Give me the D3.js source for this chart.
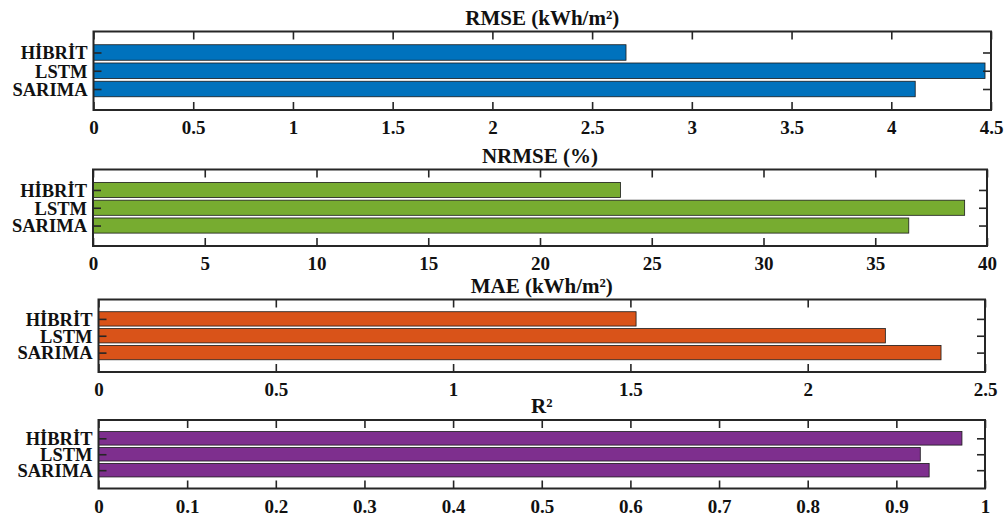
<!DOCTYPE html>
<html>
<head>
<meta charset="utf-8">
<script src="https://cdn.jsdelivr.net/npm/d3@7/dist/d3.min.js"></script>
<style>
  html, body { margin: 0; padding: 0; background: #fff; }
  svg { display: block; }
</style>
</head>
<body>
<svg id="chart" width="1006" height="520"></svg>
<script>
// Forecast models compared in each panel
const models = ["HİBRİT", "LSTM", "SARIMA"];

// Error metrics per model (same order as models)
const rmse  = [2.67, 4.47, 4.12];
const nrmse = [23.6, 39.0, 36.5];
const mae   = [1.516, 2.219, 2.376];
const r2    = [0.974, 0.927, 0.937];

// Panel titles and axis ticks
const titles = ["RMSE (kWh/m²)", "NRMSE (%)", "MAE (kWh/m²)", "R²"];
const ticksRmse  = [0, 0.5, 1, 1.5, 2, 2.5, 3, 3.5, 4, 4.5];
const ticksNrmse = [0, 5, 10, 15, 20, 25, 30, 35, 40];
const ticksMae   = [0, 0.5, 1, 1.5, 2, 2.5];
const ticksR2    = [0, 0.1, 0.2, 0.3, 0.4, 0.5, 0.6, 0.7, 0.8, 0.9, 1];

const colors = ["#0072BD", "#77AC30", "#D95319", "#7E2F8E"];

// Axes boxes for the four stacked panels
const boxes = [
  { left: 93.5, right: 991, top: 31.5, bottom: 110 },
  { left: 93,   right: 987, top: 169.5, bottom: 246 },
  { left: 98.5, right: 985, top: 299.5, bottom: 372 },
  { left: 98.5, right: 985, top: 420,   bottom: 488.5 }
];

const panels = [
  { title: titles[0], values: rmse,  ticks: ticksRmse,  color: colors[0] },
  { title: titles[1], values: nrmse, ticks: ticksNrmse, color: colors[1] },
  { title: titles[2], values: mae,   ticks: ticksMae,   color: colors[2] },
  { title: titles[3], values: r2,    ticks: ticksR2,    color: colors[3] }
];

const FONT = "'Liberation Serif', 'Times New Roman', Times, serif";
const svg = d3.select("#chart");
const axisColor = "#262626";

panels.forEach((p, i) => {
  const b = boxes[i];
  const w = b.right - b.left, h = b.bottom - b.top;
  const g = svg.append("g").attr("transform", `translate(${b.left},${b.top})`);

  const x = d3.scaleLinear()
    .domain([0, p.ticks[p.ticks.length - 1]])
    .range([0, w]);
  const yi = d3.scaleLinear().domain([-1.15, 3.15]).range([0, h]);
  const y = d => yi(models.indexOf(d));
  const barH = (yi(1) - yi(0)) * 0.85;

  // bars
  g.selectAll("rect.bar")
    .data(models.map((m, k) => ({ m, v: p.values[k] })))
    .join("rect")
    .attr("class", "bar")
    .attr("x", x(0))
    .attr("y", d => y(d.m) - barH / 2)
    .attr("width", d => x(d.v) - x(0))
    .attr("height", barH)
    .attr("fill", p.color)
    .attr("stroke", "#1a1a1a")
    .attr("stroke-width", 0.8);

  // bottom axis with labels, inward ticks
  const bottom = g.append("g")
    .attr("transform", `translate(0,${h})`)
    .call(d3.axisBottom(x).tickValues(p.ticks).tickFormat(d => String(d))
      .tickSizeInner(-8).tickSizeOuter(0).tickPadding(11));
  // top axis, ticks only
  const top = g.append("g")
    .call(d3.axisTop(x).tickValues(p.ticks).tickFormat("")
      .tickSizeInner(-8).tickSizeOuter(0));

  // left category axis
  const yPts = d3.scalePoint().domain(models).range([y(models[0]), y(models[2])]);
  const left = g.append("g")
    .call(d3.axisLeft(yPts).tickSizeInner(-8).tickSizeOuter(0).tickPadding(6));
  const right = g.append("g")
    .attr("transform", `translate(${w},0)`)
    .call(d3.axisRight(yPts).tickFormat("").tickSizeInner(-8).tickSizeOuter(0));

  [bottom, top, left, right].forEach(a => {
    a.select(".domain").remove();
    a.attr("color", axisColor)
      .attr("font-family", null)
      .attr("font-size", null);
    a.selectAll(".tick line").attr("stroke-width", 1.6);
    a.selectAll(".tick text")
      .style("font-family", FONT)
      .style("font-weight", "bold")
      .style("font-size", "19px")
      .attr("fill", "#111");
  });
  left.selectAll(".tick text")
    .attr("dy", "0.34em")
    .style("font-size", "18.5px");

  // axes box
  g.append("rect")
    .attr("x", 0).attr("y", 0).attr("width", w).attr("height", h)
    .attr("fill", "none").attr("stroke", axisColor).attr("stroke-width", 2);

  // title
  svg.append("text")
    .attr("x", b.left + w / 2)
    .attr("y", b.top - 7)
    .attr("text-anchor", "middle")
    .style("font-family", FONT)
    .style("font-weight", "bold")
    .style("font-size", "21px")
    .attr("fill", "#111")
    .text(p.title);
});
</script>
</body>
</html>
